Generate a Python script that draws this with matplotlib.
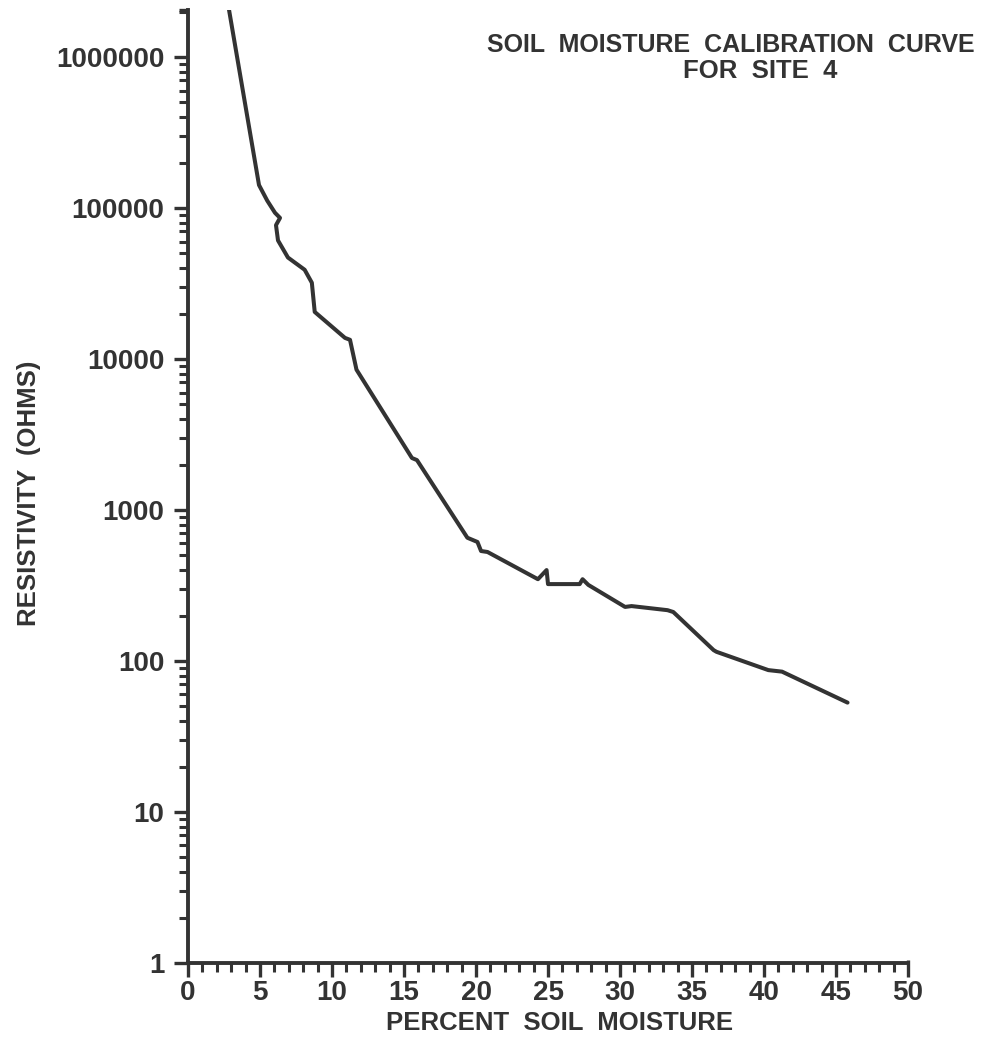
import matplotlib
matplotlib.use("Agg")
import matplotlib.pyplot as plt
from matplotlib.ticker import FixedLocator, LogLocator, NullFormatter, FuncFormatter

# Calibration curve: percent soil moisture vs. resistivity (ohms)
moisture = [2.85, 4.93, 5.5, 6.04, 6.39, 6.11, 6.25, 6.94, 8.1, 8.6, 8.8,
            10.9, 11.25, 11.7, 15.55, 15.9, 19.4, 20.1, 20.35, 20.8, 24.3,
            24.9, 25.0, 27.2, 27.4, 27.8, 30.35, 30.8, 33.3, 33.7, 36.5,
            36.7, 40.3, 41.25, 45.8]
resistivity = [2050000, 142000, 112000, 93000, 86000, 77000, 61000, 47000,
               39000, 32000, 20500, 13800, 13400, 8500, 2210, 2140, 655, 614,
               535, 527, 348, 400, 323, 323, 348, 319, 228, 231, 217, 211,
               118, 115, 87, 85, 53]

x_ticks = [0, 5, 10, 15, 20, 25, 30, 35, 40, 45, 50]
y_ticks = [1, 10, 100, 1000, 10000, 100000, 1000000]

title_line1 = "SOIL  MOISTURE  CALIBRATION  CURVE"
title_line2 = "FOR  SITE  4"
x_label = "PERCENT  SOIL  MOISTURE"
y_label = "RESISTIVITY  (OHMS)"

INK = "#333333"
FONT = "Liberation Sans"

fig = plt.figure(figsize=(9.9, 10.37), dpi=100)
ax = fig.add_axes([0.1899, 0.0714, 0.9172 - 0.1899, 0.9904 - 0.0714])

ax.plot(moisture, resistivity, color=INK, lw=2.9, solid_joinstyle="round",
        solid_capstyle="round", clip_on=True)

ax.set_yscale("log")
ax.set_xlim(0, 50)
ax.set_ylim(1, 2.05e6)

for side in ("top", "right"):
    ax.spines[side].set_visible(False)
for side in ("left", "bottom"):
    ax.spines[side].set_color(INK)
    ax.spines[side].set_linewidth(2.8)

ax.xaxis.set_major_locator(FixedLocator(x_ticks))
ax.xaxis.set_minor_locator(FixedLocator([v for v in range(0, 51) if v % 5]))
ax.yaxis.set_major_locator(FixedLocator(y_ticks))
ax.yaxis.set_minor_locator(LogLocator(base=10, subs=range(2, 10), numticks=20))
ax.yaxis.set_minor_formatter(NullFormatter())
ax.yaxis.set_major_formatter(FuncFormatter(lambda v, p: f"{int(round(v))}"))

ax.tick_params(axis="both", which="major", direction="out", color=INK,
               width=2.4, length=10, labelsize=20, labelcolor=INK, pad=6)
ax.tick_params(axis="both", which="minor", direction="out", color=INK,
               width=2.2, length=6.5)
ax.tick_params(axis="y", which="major", pad=7)
ax.tick_params(axis="x", which="major", pad=2)

for lab in ax.get_xticklabels() + ax.get_yticklabels():
    lab.set_fontfamily(FONT)
    lab.set_fontweight("bold")

# end caps at the ends of the axes
ax.plot([0, -0.6], [2.05e6, 2.05e6], color=INK, lw=2.4, clip_on=False,
        solid_capstyle="butt")
ax.plot([50, 50], [1, 1.05], color=INK, lw=2.4, clip_on=False,
        solid_capstyle="butt")

txt = dict(color=INK, fontfamily=FONT, fontweight="bold", fontsize=18.5)
fig.text(975 / 990, 1 - 52 / 1037, title_line1, ha="right", va="baseline",
         **{**txt, "fontsize": 18})
fig.text(683 / 990, 1 - 78 / 1037, title_line2, ha="left", va="baseline", **txt)
fig.text(560 / 990, 1 - 1030 / 1037, x_label, ha="center", va="baseline", **txt)
fig.text(29 / 990, 1 - 493 / 1037, y_label, ha="center", va="center",
         rotation=90, **txt)

fig.savefig("out.png", dpi=100, facecolor="white")
